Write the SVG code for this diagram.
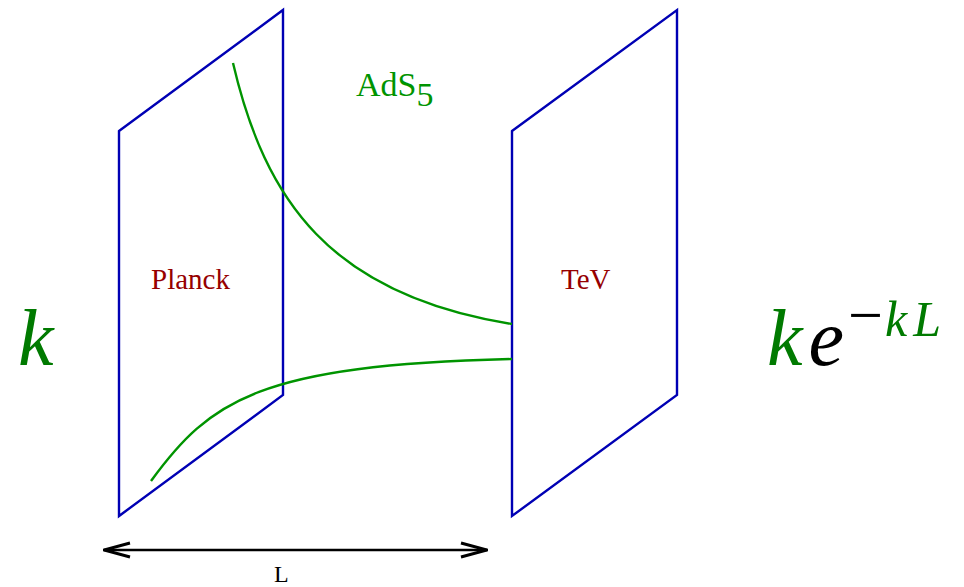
<svg xmlns="http://www.w3.org/2000/svg" width="964" height="587" viewBox="0 0 964 587">
<style>
.brane{fill:none;stroke:#0000b4;stroke-width:2.4;stroke-linejoin:miter}
.curve{fill:none;stroke:#009400;stroke-width:2.4}
.lbl{font-family:"Liberation Serif",serif;fill:#960000;font-size:29px}
.math{font-family:"Liberation Serif",serif;font-style:italic}
</style>
<defs>
<marker id="ah" viewBox="0 0 28 18" refX="27" refY="9" markerWidth="28" markerHeight="18" markerUnits="userSpaceOnUse" orient="auto-start-reverse">
<path d="M1,2 L27,9 L1,16" fill="none" stroke="#000" stroke-width="3"/>
</marker>
</defs>
<rect width="964" height="587" fill="#fff"/>
<g id="planck">
<polygon class="brane" points="119,131 283,10 283,395 119,516"/>
<text class="lbl" x="151" y="289">Planck</text>
</g>
<g id="tev">
<polygon class="brane" points="512,131 677,10 677,395 512,516"/>
<text class="lbl" x="561" y="289">TeV</text>
</g>
<g id="connectors">
<path class="curve" d="M233,63 C265,200 330,295 512,324"/>
<path class="curve" d="M151,481 C210,400 260,365 512,359"/>
<line x1="104" y1="550" x2="487" y2="550" stroke="#000" stroke-width="2.6" marker-start="url(#ah)" marker-end="url(#ah)"/>
</g>
<text x="356" y="96" font-family="Liberation Serif,serif" font-size="34" fill="#009400">AdS<tspan dy="10">5</tspan></text>
<text x="274" y="582" font-family="Liberation Serif,serif" font-size="24" fill="#000">L</text>
<text class="math" x="18" y="365" font-size="80" fill="#007a00">k</text>
<text class="math" x="767" y="365" font-size="80"><tspan fill="#007a00">k</tspan><tspan fill="#000" dx="6">e</tspan><tspan font-style="normal" font-size="62" dx="4" dy="-29" fill="#000">−</tspan><tspan font-size="50" fill="#007a00" dx="2">k</tspan><tspan font-size="50" fill="#007a00" dx="6">L</tspan></text>
</svg>
